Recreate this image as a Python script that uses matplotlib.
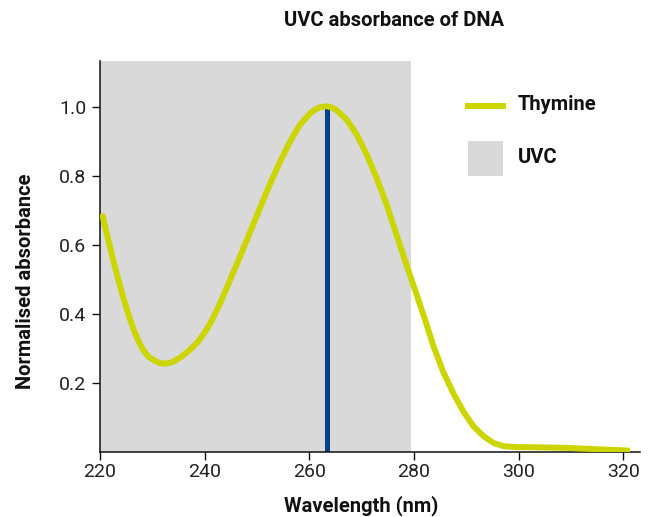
import matplotlib
matplotlib.use("Agg")
import matplotlib.pyplot as plt
from matplotlib.lines import Line2D
from matplotlib.patches import Rectangle

plt.rcParams['font.family'] = ['Roboto', 'DejaVu Sans']

# Data
wavelength = [220.4, 221.5, 222.5, 223.4, 224.4, 225.4, 226.3, 227.3, 228.2, 229.2,
              230.5, 231.4, 232.2, 233.0, 233.9, 235.5, 237.1, 238.7, 240.3, 241.5,
              243.0, 244.9, 246.8, 248.7, 250.6, 252.5, 254.4, 256.3, 258.2, 260.2,
              261.2, 262.1, 263.2, 264.2, 265.2, 267.2, 269.1, 271.0, 272.9, 274.8,
              276.7, 278.6, 280.6, 282.2, 283.7, 285.6, 287.6, 289.5, 291.4, 293.3,
              295.2, 297.1, 299.7, 302.2, 309.2, 315.0, 321.3]
absorbance = [0.690, 0.620, 0.558, 0.505, 0.450, 0.400, 0.360, 0.323, 0.297, 0.277,
              0.264, 0.258, 0.256, 0.257, 0.261, 0.275, 0.295, 0.319, 0.353, 0.385,
              0.432, 0.500, 0.568, 0.638, 0.708, 0.777, 0.841, 0.899, 0.948, 0.982,
              0.993, 0.999, 1.002, 0.999, 0.991, 0.962, 0.919, 0.861, 0.793, 0.716,
              0.628, 0.541, 0.452, 0.380, 0.308, 0.232, 0.168, 0.116, 0.074, 0.046,
              0.026, 0.017, 0.014, 0.014, 0.012, 0.008, 0.004]
uvc_range = (220, 279.5)
peak_wavelength = 263.3
peak_value = 1.0
xticks = [220, 240, 260, 280, 300, 320]
yticks = [0.2, 0.4, 0.6, 0.8, 1.0]
ytick_labels = ["0.2", "0.4", "0.6", "0.8", "1.0"]
legend_labels = ["Thymine", "UVC"]

YELLOW = "#cdd500"
GREY = "#d9d9d9"
BLUE = "#00428a"
TXT = "#111111"

W, H = 657, 517
fig = plt.figure(figsize=(W/100, H/100), dpi=100)
ax = fig.add_axes([100/W, 1-452/H, 540/W, (452-61)/H])

ax.axvspan(uvc_range[0], uvc_range[1], color=GREY, lw=0, zorder=0)
ax.vlines(peak_wavelength, 0, peak_value, color=BLUE, lw=3.6, zorder=2)
ax.plot(wavelength, absorbance, color=YELLOW, lw=4.3, solid_capstyle='butt',
        solid_joinstyle='round', zorder=3)

ax.set_xlim(220, 323.2)
ax.set_ylim(0, 1.133)
ax.set_xticks(xticks)
ax.set_yticks(yticks)
ax.set_yticklabels(ytick_labels)
for s in ['top', 'right']:
    ax.spines[s].set_visible(False)
for s in ['left', 'bottom']:
    ax.spines[s].set_linewidth(1.1)
    ax.spines[s].set_color(TXT)
ax.tick_params(axis='both', length=6, width=1.0, labelsize=14, color=TXT,
               labelcolor='#222222')
ax.tick_params(axis='x', pad=2)
ax.tick_params(axis='y', pad=4)

ax.set_xlabel("Wavelength (nm)", fontsize=14.5, fontweight='bold', color=TXT)
ax.set_ylabel("Normalised absorbance", fontsize=14.5, fontweight='bold', color=TXT)
ax.xaxis.set_label_coords(0.484, -0.11)
ax.yaxis.set_label_coords(-0.12, 0.436)

fig.text(394/W, 1-20/H, "UVC absorbance of DNA", ha='center', va='center',
         fontsize=14.5, fontweight='bold', color=TXT)

# Legend drawn in figure pixel positions
fig.add_artist(Line2D([468/W, 503/W], [1-105.7/H, 1-105.7/H], color=YELLOW, lw=4.3,
                      transform=fig.transFigure))
fig.add_artist(Rectangle((468/W, 1-176/H), 35/W, 35/H, facecolor=GREY, edgecolor='none',
                         transform=fig.transFigure))
fig.text(518/W, 1-105/H, legend_labels[0], ha='left', va='center', fontsize=14.5,
         fontweight='bold', color=TXT)
fig.text(518/W, 1-158/H, legend_labels[1], ha='left', va='center', fontsize=14.5,
         fontweight='bold', color=TXT)

fig.savefig("out.png", dpi=100)
